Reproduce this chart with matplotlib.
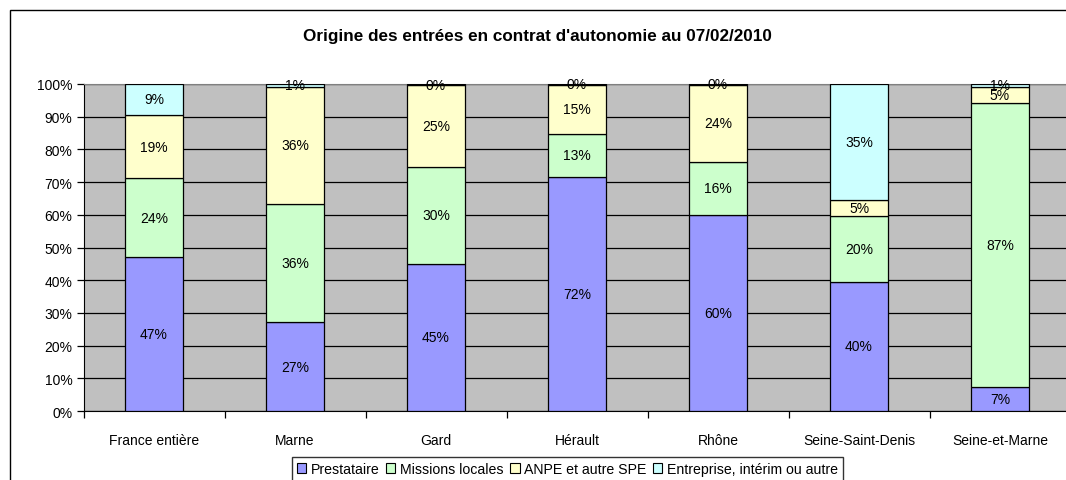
import matplotlib
matplotlib.use("Agg")
import matplotlib.pyplot as plt
import numpy as np
from matplotlib.patches import Rectangle, Patch
from matplotlib.ticker import PercentFormatter, FixedLocator

plt.rcParams['font.family'] = ['Liberation Sans', 'DejaVu Sans']

categories = ["France entière", "Marne", "Gard", "Hérault", "Rhône",
              "Seine-Saint-Denis", "Seine-et-Marne"]
series_names = ["Prestataire", "Missions locales", "ANPE et autre SPE",
                "Entreprise, intérim ou autre"]
prestataire = [47.1, 27.2, 45.0, 71.7, 60.0, 39.6, 7.2]
missions = [24.0, 36.0, 29.6, 13.1, 16.2, 19.9, 87.0]
anpe = [19.4, 36.0, 25.0, 15.0, 23.6, 5.1, 5.0]
entreprise = [9.4, 0.8, 0.4, 0.2, 0.2, 35.4, 0.8]
colors = ["#9999FF", "#CCFFCC", "#FFFFCC", "#CCFFFF"]
title = "Origine des entrées en contrat d'autonomie au 07/02/2010"

W, H = 1066, 481
fig = plt.figure(figsize=(W / 100, H / 100), dpi=100)
fig.patch.set_facecolor("white")

# chart-area frame (cut by the image edges on right and bottom)
fig.add_artist(Rectangle((10 / W, -0.2), 1.5, (1 - 11 / H) + 0.2,
                         transform=fig.transFigure, fill=False,
                         ec="black", lw=1.0))

left, right, top, bottom = 83.5, 1070.5, 85, 412
ax = fig.add_axes([left / W, 1 - bottom / H, (right - left) / W, (bottom - top) / H])
ax.set_facecolor("#C0C0C0")

data = np.array([prestataire, missions, anpe, entreprise], dtype=float)
totals = data.sum(axis=0)
frac = data / totals

x = np.arange(len(categories))
base = np.zeros(len(categories))
for i, name in enumerate(series_names):
    ax.bar(x, frac[i], width=0.405, bottom=base, color=colors[i],
           edgecolor="black", linewidth=0.9, zorder=3, label=name)
    for j in range(len(categories)):
        yc = base[j] + frac[i, j] / 2
        ax.text(x[j], yc, f"{round(data[i, j]):d}%", ha="center", va="center",
                fontsize=10, color="black", zorder=5)
    base += frac[i]

ax.set_xlim(-0.5, len(categories) - 0.5)
ax.set_ylim(0, 1)
ax.yaxis.set_major_locator(FixedLocator(np.arange(0, 1.01, 0.1)))
ax.yaxis.set_major_formatter(PercentFormatter(1.0, decimals=0))
ax.grid(axis="y", color="black", linewidth=0.9, zorder=1)
ax.set_axisbelow(True)

ax.set_xticks(x)
ax.set_xticklabels(categories, fontsize=10)
ax.xaxis.set_minor_locator(FixedLocator(np.arange(-0.5, len(categories), 1.0)))
ax.tick_params(axis="x", which="major", length=0, pad=16)
ax.tick_params(axis="x", which="minor", length=5, width=0.9, direction="out")
ax.tick_params(axis="y", length=5, width=0.9, direction="out", labelsize=10, pad=3)

ax.spines["top"].set_color("#808080")
ax.spines["right"].set_visible(False)
ax.spines["left"].set_color("black")
ax.spines["bottom"].set_color("black")

fig.text(537 / W, 1 - 37 / H, title, ha="center", va="center",
         fontsize=12.3, fontweight="bold")

handles = [Patch(facecolor=c, edgecolor="black", linewidth=0.8) for c in colors]
leg = fig.legend(handles, series_names, loc="upper left",
                 bbox_to_anchor=(292 / W, 1 - 458 / H), ncol=4,
                 frameon=True, fancybox=False, fontsize=10.2,
                 handlelength=0.65, handleheight=0.65, handletextpad=0.3,
                 columnspacing=0.5, borderpad=0.35, borderaxespad=0)
leg.get_frame().set_edgecolor("black")
leg.get_frame().set_linewidth(1.0)

fig.savefig("out.png", dpi=100)
